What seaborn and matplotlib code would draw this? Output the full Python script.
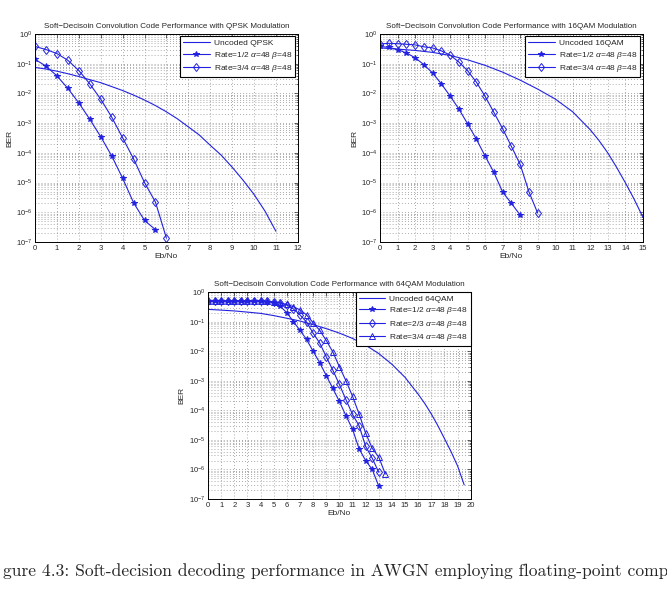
import numpy as np
import matplotlib
matplotlib.use('Agg')
import matplotlib.pyplot as plt
import seaborn as sns
from matplotlib.ticker import LogLocator, FixedLocator, NullFormatter

# ---- data ----
# QPSK
qpsk_unc_x = [0, 0.5, 1, 1.5, 2, 2.5, 3, 3.5, 4, 4.5, 5, 5.5, 6, 6.5, 7, 7.5, 8, 8.5, 9, 9.5, 10, 10.5, 11]
qpsk_unc_y = [0.075, 0.066, 0.056, 0.046, 0.037, 0.029, 0.023, 0.017, 0.0125, 0.0088, 0.006, 0.0039,
              0.0024, 0.0014, 7.5e-4, 4.0e-4, 1.8e-4, 8.4e-5, 3.3e-5, 1.2e-5, 4e-6, 1.1e-6, 2.3e-7]
qpsk_r12_x = [0, 0.5, 1, 1.5, 2, 2.5, 3, 3.5, 4, 4.5, 5, 5.5]
qpsk_r12_y = [0.14, 0.083, 0.039, 0.0147, 0.0048, 0.00135, 3.5e-4, 7.9e-5, 1.4e-5, 2.1e-6, 5.3e-7, 2.6e-7]
qpsk_r34_x = [0, 0.5, 1, 1.5, 2, 2.5, 3, 3.5, 4, 4.5, 5, 5.5, 6]
qpsk_r34_y = [0.38, 0.30, 0.22, 0.13, 0.059, 0.021, 0.0064, 0.0016, 3.2e-4, 6.3e-5, 1.0e-5, 2.2e-6, 1.35e-7]

# 16QAM
qam16_unc_x = [0, 1, 2, 3, 4, 5, 6, 7, 8, 9, 10, 11, 12, 12.5, 13, 13.5, 14, 14.5, 15]
qam16_unc_y = [0.34, 0.31, 0.28, 0.24, 0.19, 0.135, 0.088, 0.052, 0.028, 0.014, 0.0065, 0.0024,
               6e-4, 2.6e-4, 1e-4, 3.3e-5, 1e-5, 2.8e-6, 7e-7]
qam16_r12_x = [0, 0.5, 1, 1.5, 2, 2.5, 3, 3.5, 4, 4.5, 5, 5.5, 6, 6.5, 7, 7.5, 8]
qam16_r12_y = [0.38, 0.355, 0.30, 0.23, 0.16, 0.093, 0.049, 0.021, 0.0082, 0.003, 9.5e-4, 2.9e-4,
               7.8e-5, 2.2e-5, 4.8e-6, 2.0e-6, 8.1e-7]
qam16_r34_x = [0, 0.5, 1, 1.5, 2, 2.5, 3, 3.5, 4, 4.5, 5, 5.5, 6, 6.5, 7, 7.5, 8, 8.5, 9]
qam16_r34_y = [0.46, 0.485, 0.47, 0.45, 0.43, 0.37, 0.34, 0.27, 0.196, 0.114, 0.058, 0.024, 0.008,
               0.0023, 6.5e-4, 1.65e-4, 4.1e-5, 4.9e-6, 9.4e-7]

# 64QAM
qam64_unc_x = [0, 1, 2, 3, 4, 5, 6, 7, 8, 9, 10, 11, 12, 13, 14, 15, 16, 16.5, 17, 17.5, 18, 18.5, 19, 19.5]
qam64_unc_y = [0.26, 0.245, 0.23, 0.21, 0.19, 0.16, 0.13, 0.105, 0.079, 0.058, 0.041, 0.027, 0.016,
               0.0083, 0.0036, 0.0013, 3.5e-4, 1.7e-4, 7.5e-5, 3e-5, 1.1e-5, 4e-6, 1.3e-6, 3e-7]
qam64_r12_x = [0, 0.5, 1, 1.5, 2, 2.5, 3, 3.5, 4, 4.5, 5, 5.5, 6, 6.5, 7, 7.5, 8, 8.5, 9, 9.5, 10,
               10.5, 11, 11.5, 12, 12.5, 13]
qam64_r12_y = [0.48, 0.48, 0.48, 0.48, 0.48, 0.48, 0.48, 0.48, 0.48, 0.47, 0.44, 0.33, 0.2, 0.1,
               0.051, 0.025, 0.01, 0.0041, 0.0015, 5.5e-4, 2e-4, 6.6e-5, 2.3e-5, 5e-6, 2e-6, 1e-6, 2.7e-7]
qam64_r23_x = [0, 0.5, 1, 1.5, 2, 2.5, 3, 3.5, 4, 4.5, 5, 5.5, 6, 6.5, 7, 7.5, 8, 8.5, 9, 9.5, 10,
               10.5, 11, 11.5, 12, 12.5, 13]
qam64_r23_y = [0.48, 0.48, 0.48, 0.48, 0.48, 0.48, 0.48, 0.48, 0.48, 0.48, 0.47, 0.44, 0.36, 0.27,
               0.17, 0.097, 0.041, 0.019, 0.0065, 0.0023, 7.5e-4, 2.3e-4, 7.3e-5, 3e-5, 6e-6, 2.4e-6, 8e-7]
qam64_r34_x = [0, 0.5, 1, 1.5, 2, 2.5, 3, 3.5, 4, 4.5, 5, 5.5, 6, 6.5, 7, 7.5, 8, 8.5, 9, 9.5, 10,
               10.5, 11, 11.5, 12, 12.5, 13, 13.5]
qam64_r34_y = [0.48, 0.48, 0.48, 0.48, 0.48, 0.48, 0.48, 0.48, 0.48, 0.48, 0.47, 0.42, 0.38, 0.32,
               0.25, 0.17, 0.092, 0.051, 0.023, 0.0095, 0.003, 0.001, 3e-4, 7.5e-5, 1.7e-5, 5.2e-6,
               2.6e-6, 7e-7]

caption = 'gure 4.3: Soft-decision decoding performance in AWGN employing floating-point comp'

# ---- style ----
sns.set_style('white')
plt.rcParams['font.family'] = ['Liberation Sans', 'DejaVu Sans']
plt.rcParams['mathtext.fontset'] = 'custom'
plt.rcParams['mathtext.rm'] = 'Liberation Sans'
plt.rcParams['mathtext.it'] = 'Liberation Sans:italic'

BLUE = '#2222e0'
LW = 0.8
grid_ls = (0, (1, 3))
GRID_C = '#7a7a7a'


def setup_axes(ax, xmax, title):
    ax.set_yscale('log')
    ax.set_ylim(1e-7, 1)
    ax.set_xlim(0, xmax)
    ax.xaxis.set_major_locator(FixedLocator(np.arange(0, xmax + 1, 1)))
    ax.yaxis.set_major_locator(LogLocator(base=10, numticks=20))
    ax.yaxis.set_minor_locator(LogLocator(base=10, subs=np.arange(2, 10), numticks=20))
    ax.yaxis.set_minor_formatter(NullFormatter())
    ax.tick_params(which='both', direction='in', top=True, right=True, labelsize=5.5,
                   width=0.5, pad=2)
    ax.tick_params(which='major', length=3)
    ax.tick_params(which='minor', length=1.5)
    ax.grid(True, which='major', axis='both', color=GRID_C, linestyle=grid_ls, linewidth=0.55)
    ax.grid(True, which='minor', axis='y', color=GRID_C, linestyle=grid_ls, linewidth=0.55)
    for sp in ax.spines.values():
        sp.set_linewidth(0.7)
        sp.set_color('black')
    ax.set_title(title, fontsize=5.8, pad=4)
    ax.set_xlabel('Eb/No', fontsize=6, labelpad=1)
    ax.set_ylabel('BER', fontsize=6, labelpad=2)


def coded(ax, x, y, marker, label, ms):
    sns.lineplot(x=x, y=y, ax=ax, color=BLUE, linewidth=LW, marker=marker, markersize=ms,
                 markerfacecolor=BLUE if marker == '*' else 'none', markeredgecolor=BLUE,
                 markeredgewidth=0.7, label=label)


fig = plt.figure(figsize=(6.67, 5.93), dpi=100)
ax1 = fig.add_axes([0.0525, 0.5919, 0.394, 0.3508])
ax2 = fig.add_axes([0.5697, 0.5919, 0.394, 0.3508])
ax3 = fig.add_axes([0.3118, 0.1585, 0.394, 0.3490])

# QPSK
sns.lineplot(x=qpsk_unc_x, y=qpsk_unc_y, ax=ax1, color=BLUE, linewidth=LW, label='Uncoded QPSK')
coded(ax1, qpsk_r12_x, qpsk_r12_y, '*', r'Rate=1/2 $\alpha$=48 $\beta$=48', 3.8)
coded(ax1, qpsk_r34_x, qpsk_r34_y, 'd', r'Rate=3/4 $\alpha$=48 $\beta$=48', 4.5)
setup_axes(ax1, 12, 'Soft\u2212Decisoin Convolution Code Performance with QPSK Modulation')

# 16QAM
sns.lineplot(x=qam16_unc_x, y=qam16_unc_y, ax=ax2, color=BLUE, linewidth=LW, label='Uncoded 16QAM')
coded(ax2, qam16_r12_x, qam16_r12_y, '*', r'Rate=1/2 $\alpha$=48 $\beta$=48', 3.8)
coded(ax2, qam16_r34_x, qam16_r34_y, 'd', r'Rate=3/4 $\alpha$=48 $\beta$=48', 4.5)
setup_axes(ax2, 15, 'Soft\u2212Decisoin Convolution Code Performance with 16QAM Modulation')

# 64QAM
sns.lineplot(x=qam64_unc_x, y=qam64_unc_y, ax=ax3, color=BLUE, linewidth=LW, label='Uncoded 64QAM')
coded(ax3, qam64_r12_x, qam64_r12_y, '*', r'Rate=1/2 $\alpha$=48 $\beta$=48', 3.8)
coded(ax3, qam64_r23_x, qam64_r23_y, 'd', r'Rate=2/3 $\alpha$=48 $\beta$=48', 4.5)
coded(ax3, qam64_r34_x, qam64_r34_y, '^', r'Rate=3/4 $\alpha$=48 $\beta$=48', 4.2)
setup_axes(ax3, 20, 'Soft\u2212Decisoin Convolution Code Performance with 64QAM Modulation')

for ax, pad in [(ax1, 0.3), (ax2, 0.3), (ax3, 0.0)]:
    leg = ax.legend(loc='upper right', fontsize=6, frameon=True, fancybox=False,
                    edgecolor='black', framealpha=1, handlelength=3.2, borderpad=0.35,
                    labelspacing=0.3, handletextpad=0.5, borderaxespad=pad)
    leg.get_frame().set_linewidth(0.8)

fig.text(0.004, 0.037, caption, fontsize=12.6, family='cmr10', ha='left', va='center')

fig.savefig('out.png', dpi=100)
